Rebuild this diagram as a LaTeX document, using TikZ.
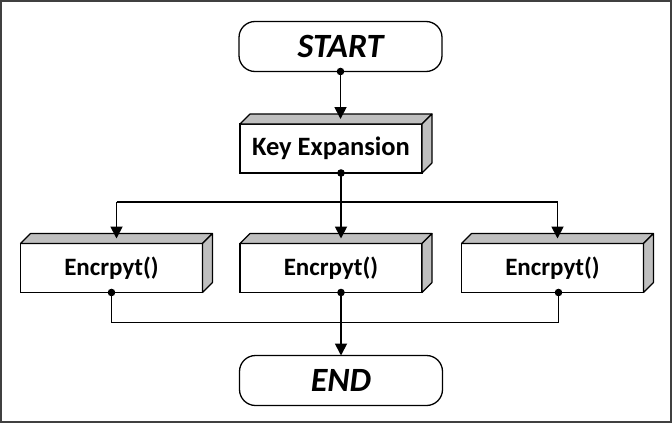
\documentclass[tikz,border=0pt]{standalone}
\usepackage{fontspec}
\setmainfont{Carlito}
\usetikzlibrary{calc,arrows.meta}
\tikzset{
	terminal/.style={draw,line width=1.3pt,rounded corners=16pt,minimum width=203pt,minimum height=50pt,outer sep=0pt,font=\fontsize{34}{40}\selectfont\bfseries\itshape},
	box3d/.style={draw,line width=1.1pt,fill=white,minimum width=182pt,minimum height=49pt,outer sep=0pt,font=\fontsize{25}{30}\selectfont\bfseries},
	face/.style={draw,line width=1.1pt,fill=black!25,line join=round},
	flow/.style={line width=1.8pt,-{Triangle[length=12pt,width=12pt]}},
	link/.style={line width=1.8pt},
}
\begin{document}
\begin{tikzpicture}[x=1pt,y=-1pt]
	% frame round the whole chart
	\useasboundingbox (0,0) rectangle (672,423);
	\draw[line width=2pt,black!75] (1,1) rectangle (671,422);
	
	% nodes
	\node[terminal] (start) at (340.5,46.5) {START};
	\node[box3d,font=\fontsize{26.5}{32}\selectfont\bfseries] (kexp) at (331,148.5) {Key Expansion};
	\node[box3d] (encA) at (111.5,268) {Encrpyt()};
	\node[box3d] (encB) at (331,268) {Encrpyt()};
	\node[box3d] (encC) at (552.5,268) {Encrpyt()};
	\node[terminal] (end) at (341,380.5) {END};
	
	% top and side faces of the boxes
	\foreach \n in {kexp,encA,encB,encC}{
		\filldraw[face] (\n.north west) -- ++(10,-10) -- ($(\n.north east)+(10,-10)$) -- (\n.north east) -- cycle;
		\filldraw[face] (\n.north east) -- ++(10,-10) -- ($(\n.south east)+(10,-10)$) -- (\n.south east) -- cycle;
		\coordinate (\n-top) at ($(\n.north)+(5,-5)$);
	}
	
	% points where the lines leave the boxes
	\coordinate (kexp-out) at ([xshift=10pt]kexp.south);
	\coordinate (encA-out) at (encA.south);
	\coordinate (encB-out) at ([xshift=10pt]encB.south);
	\coordinate (encC-out) at ([xshift=6pt]encC.south);
	\coordinate (split) at ([yshift=-29pt]kexp-out);
	\coordinate (join) at ([yshift=-30pt]encB-out);
	
	% connectors
	\draw[flow] (start.south) -- (start.south |- kexp-top);
	\draw[link] (kexp-out) -- (split);
	\draw[link] (encA-top |- split) -- (encC-top |- split);
	\draw[flow] (split) -- (split |- encB-top);
	\draw[flow] (encA-top |- split) -- (encA-top);
	\draw[flow] (encC-top |- split) -- (encC-top);
	\draw[link] (encA-out) |- (join) -| (encC-out);
	\draw[flow] (encB-out) -- (encB-out |- end.north);
	
	% dots at the start of the lines
	\foreach \p in {start.south,kexp-out,encA-out,encB-out,encC-out}
		\fill (\p) circle (3.8pt);
\end{tikzpicture}
\end{document}
